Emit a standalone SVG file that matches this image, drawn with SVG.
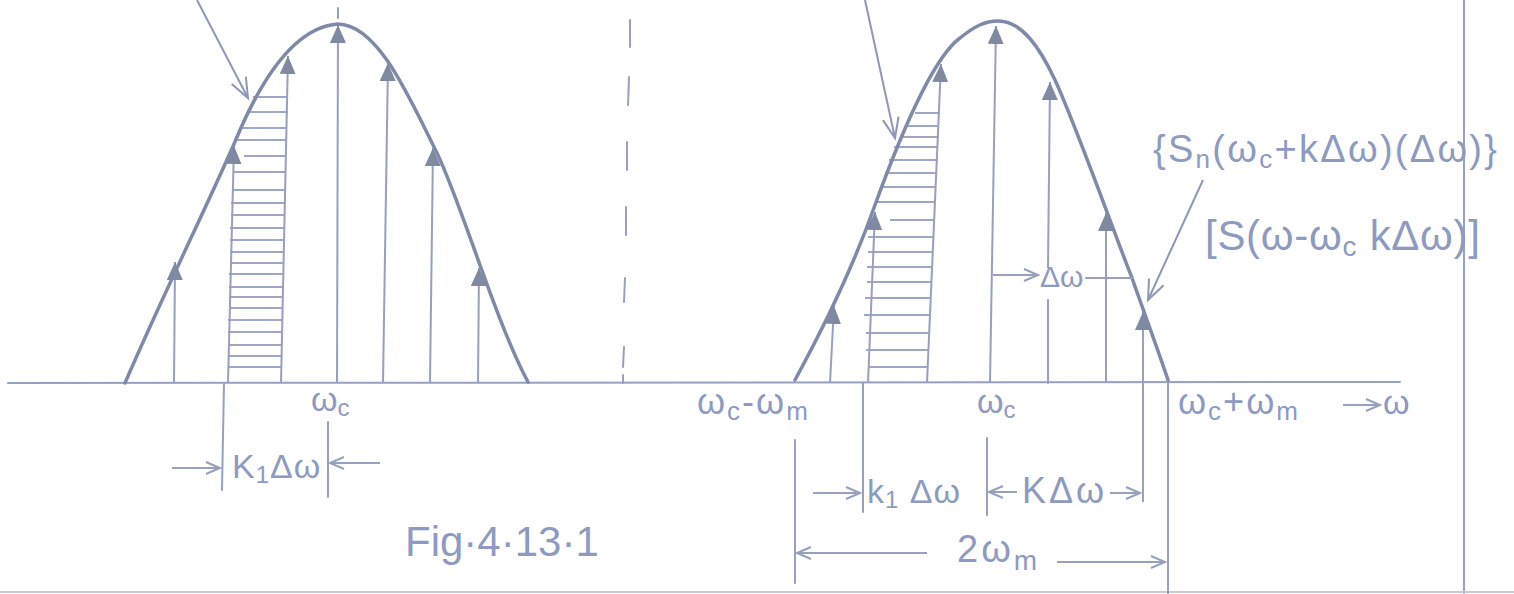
<svg xmlns="http://www.w3.org/2000/svg" width="1514" height="594" viewBox="0 0 1514 594">
<style>
.curve{fill:none;stroke:#7f8aa8;stroke-width:3.5;stroke-linecap:round}
.stem{fill:none;stroke:#97a0bd;stroke-width:2;marker-end:url(#tri)}
.ln{fill:none;stroke:#97a0bd;stroke-width:2;stroke-linecap:round}
.hatch{fill:none;stroke:#9ea8c6;stroke-width:2}
.dim{fill:none;stroke:#97a0bd;stroke-width:2;marker-end:url(#vee)}
.ptr{fill:none;stroke:#8e98b6;stroke-width:2;marker-end:url(#veeL)}
.t{font-family:"Liberation Sans","DejaVu Sans",sans-serif;fill:#8e9ac0}
</style>
<defs>
<marker id="tri" viewBox="0 0 18 16" refX="18" refY="8" markerWidth="18" markerHeight="16" markerUnits="userSpaceOnUse" orient="auto">
<path d="M0,0 L18,8 L0,16 Z" fill="#7f899f"/>
</marker>
<marker id="vee" viewBox="0 0 16 16" refX="15" refY="8" markerWidth="16" markerHeight="16" markerUnits="userSpaceOnUse" orient="auto" overflow="visible">
<path d="M1,2 L15,8 L1,14" fill="none" stroke="#97a0bd" stroke-width="2"/>
</marker>
<marker id="veeL" viewBox="0 0 22 22" refX="21" refY="11" markerWidth="22" markerHeight="22" markerUnits="userSpaceOnUse" orient="auto" overflow="visible">
<path d="M1,3 L21,11 L1,19" fill="none" stroke="#8e98b6" stroke-width="2"/>
</marker>
</defs>
<rect width="1514" height="594" fill="#ffffff"/>

<g id="frame">
<line class="ln" x1="8" y1="383" x2="1400" y2="382" stroke-width="2.5"/>
<line class="ln" x1="1464" y1="0" x2="1464" y2="594"/>
<line x1="0" y1="592" x2="1514" y2="592" stroke="#c9ccd6" stroke-width="2"/>
<path class="ln" d="M630,20 L630,47 M629,77 L628,105 M627,142 L627,170 M626,207 L626,235 M625,278 L624,302 M624,347 L623,367 M623,375 L623,383"/>
</g>

<g id="left-spectrum">
<path class="hatch" d="M253,97 H288 M248,112 H288 M242,128 H287 M237,140 H287 M244,156 H286 M233,172 H286 M232,190 H285 M231,203 H285 M231,215 H285 M230,228 H284 M230,240 H284 M230,252 H284 M230,263 H284 M229,274 H283 M229,287 H283 M229,297 H283 M229,308 H283 M228,320 H282 M228,332 H282 M228,345 H282 M228,356 H282 M228,367 H281"/>
<line class="stem" x1="174" y1="383" x2="175" y2="262"/>
<line class="stem" x1="228" y1="383" x2="234" y2="146"/>
<line class="stem" x1="281" y1="383" x2="288" y2="56"/>
<line class="stem" x1="337" y1="383" x2="338" y2="25"/>
<line class="stem" x1="383" y1="383" x2="388" y2="63"/>
<line class="stem" x1="430" y1="383" x2="433" y2="148"/>
<line class="stem" x1="478" y1="383" x2="479" y2="268"/>
<path class="curve" d="M125,383 C165,290 215,190 240,130 C262,80 295,27 338,24 C378,25 408,95 437,153 C462,205 495,320 528,382"/>
<line class="ln" x1="338" y1="8" x2="338" y2="18"/>
</g>

<g id="right-spectrum">
<path class="hatch" d="M915,113 H940 M907,126 H939 M901,137 H939 M894,147 H938 M889,160 H938 M885,173 H937 M880,187 H936 M875,202 H935 M890,220 H935 M868,237 H934 M868,252 H933 M867,267 H932 M867,282 H931 M865,298 H930 M864,315 H930 M866,333 H929 M866,350 H928 M868,367 H927"/>
<line class="stem" x1="830" y1="383" x2="834" y2="306"/>
<line class="stem" x1="868" y1="383" x2="875" y2="212"/>
<line class="stem" x1="927" y1="383" x2="941" y2="64"/>
<line class="stem" x1="990" y1="383" x2="996" y2="26"/>
<line class="ln" x1="1048" y1="383" x2="1048" y2="300"/>
<line class="stem" x1="1048" y1="268" x2="1050" y2="82"/>
<line class="stem" x1="1106" y1="383" x2="1106" y2="213"/>
<line class="stem" x1="1143" y1="502" x2="1143" y2="312"/>
<path class="curve" d="M795,380 C825,325 855,262 875,205 C895,150 930,60 960,38 C975,26 985,21 998,21 C1022,21 1040,48 1055,80 C1077,128 1110,222 1132,278 C1145,315 1158,350 1168,380"/>
</g>

<g id="connectors">
<line class="ptr" x1="197" y1="0" x2="248" y2="98"/>
<line class="ptr" x1="865" y1="0" x2="895" y2="138"/>
<line class="ptr" x1="1203" y1="180" x2="1148" y2="300"/>
<line class="dim" x1="993" y1="275" x2="1038" y2="275"/>
<line class="ln" x1="1086" y1="278" x2="1132" y2="278"/>
<line class="ln" x1="224" y1="383" x2="222" y2="490"/>
<line class="ln" x1="328" y1="422" x2="328" y2="497"/>
<line class="dim" x1="172" y1="468" x2="220" y2="468"/>
<line class="dim" x1="380" y1="463" x2="330" y2="463"/>
<line class="ln" x1="795" y1="440" x2="795" y2="583"/>
<line class="ln" x1="863" y1="383" x2="863" y2="512"/>
<line class="ln" x1="987" y1="438" x2="987" y2="515"/>
<line class="ln" x1="1168" y1="383" x2="1168" y2="594"/>
<line class="dim" x1="813" y1="493" x2="860" y2="493"/>
<line class="dim" x1="1017" y1="492" x2="989" y2="492"/>
<line class="dim" x1="1110" y1="493" x2="1140" y2="493"/>
<line class="dim" x1="927" y1="553" x2="797" y2="553"/>
<line class="dim" x1="1057" y1="562" x2="1165" y2="562"/>
<line class="dim" x1="1343" y1="405" x2="1380" y2="405"/>
</g>

<g id="labels">
<text class="t" x="311" y="411" font-size="34">ω<tspan font-size="24" dy="5">c</tspan></text>
<text class="t" x="232" y="478" font-size="34" letter-spacing="1">K<tspan font-size="24" dy="5">1</tspan><tspan dy="-5">Δω</tspan></text>
<text class="t" x="405" y="556" font-size="42">Fig·4·13·1</text>

<text class="t" x="697" y="414" font-size="36" letter-spacing="2">ω<tspan font-size="26" dy="6">c</tspan><tspan dy="-6">-ω</tspan><tspan font-size="26" dy="6">m</tspan></text>
<text class="t" x="977" y="413" font-size="34">ω<tspan font-size="24" dy="5">c</tspan></text>
<text class="t" x="1178" y="414" font-size="36" letter-spacing="2">ω<tspan font-size="26" dy="6">c</tspan><tspan dy="-6">+ω</tspan><tspan font-size="26" dy="6">m</tspan></text>
<text class="t" x="1383" y="414" font-size="34">ω</text>

<text class="t" x="1040" y="287" font-size="30">Δω</text>

<text class="t" x="867" y="503" font-size="34" letter-spacing="1">k<tspan font-size="24" dy="5">1</tspan><tspan dy="-5"> Δω</tspan></text>
<text class="t" x="1022" y="503" font-size="36" letter-spacing="3">KΔω</text>
<text class="t" x="957" y="562" font-size="38" letter-spacing="3">2ω<tspan font-size="28" dy="8">m</tspan></text>

<text class="t" x="1153" y="162" font-size="38" textLength="344" lengthAdjust="spacing">{S<tspan font-size="26" dy="6">n</tspan><tspan dy="-6">(ω</tspan><tspan font-size="26" dy="6">c</tspan><tspan dy="-6">+kΔω)(Δω)}</tspan></text>
<text class="t" x="1205" y="250" font-size="42" textLength="275" lengthAdjust="spacing">[S(ω-ω<tspan font-size="28" dy="6">c</tspan><tspan dy="-6"> kΔω)]</tspan></text>
</g>
</svg>
